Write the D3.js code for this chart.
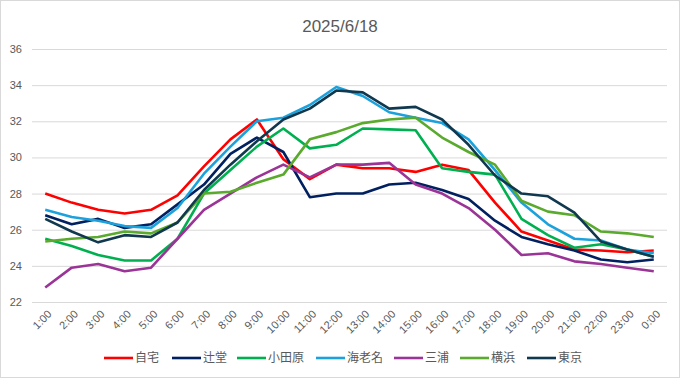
<!DOCTYPE html>
<html>
<head>
<meta charset="utf-8">
<script src="https://cdn.jsdelivr.net/npm/d3@7"></script>
<style>
  body { margin: 0; background: #fff; }
  text { font-family: "Liberation Sans", "Noto Sans CJK JP", sans-serif; fill: #595959; }
</style>
</head>
<body>
<svg id="chart" width="681" height="379"></svg>
<script>
// 時刻ラベル
const hours = ['1:00','2:00','3:00','4:00','5:00','6:00','7:00','8:00','9:00','10:00','11:00','12:00',
               '13:00','14:00','15:00','16:00','17:00','18:00','19:00','20:00','21:00','22:00','23:00','0:00'];
const yTicks = [22, 24, 26, 28, 30, 32, 34, 36];

// 各地点の気温
const jitaku   = [28.0,27.5,27.1,26.9,27.1,27.9,29.5,31.0,32.1,29.9,28.8,29.6,29.4,29.4,29.2,29.6,29.3,27.5,25.9,25.4,24.9,24.85,24.75,24.85];
const tsujido  = [26.8,26.3,26.6,26.1,26.3,27.4,28.5,30.2,31.1,30.3,27.8,28.0,28.0,28.5,28.6,28.2,27.7,26.5,25.6,25.2,24.85,24.35,24.2,24.35];
const odawara  = [25.5,25.1,24.6,24.3,24.3,25.5,28.0,29.3,30.6,31.6,30.5,30.7,31.6,31.55,31.5,29.4,29.2,29.05,26.6,25.7,25.0,25.2,24.9,24.5];
const ebina    = [27.1,26.7,26.5,26.2,26.1,27.2,29.1,30.6,32.0,32.2,32.9,33.9,33.4,32.5,32.2,31.9,31.0,29.3,27.5,26.3,25.5,25.4,24.9,24.7];
const miura    = [22.8,23.9,24.1,23.7,23.9,25.5,27.1,28.0,28.9,29.6,28.9,29.6,29.6,29.7,28.5,28.0,27.2,26.0,24.6,24.7,24.25,24.1,23.9,23.7];
const yokohama = [25.35,25.5,25.6,25.9,25.8,26.4,28.0,28.1,28.6,29.05,31.0,31.4,31.9,32.1,32.2,31.1,30.3,29.6,27.6,27.0,26.8,25.9,25.8,25.6];
const tokyo    = [26.6,25.9,25.3,25.7,25.6,26.4,28.2,29.6,30.9,32.1,32.7,33.7,33.6,32.7,32.8,32.1,30.7,29.0,28.0,27.85,26.95,25.35,24.9,24.5];

const names  = ['自宅','辻堂','小田原','海老名','三浦','横浜','東京'];
const values = [jitaku, tsujido, odawara, ebina, miura, yokohama, tokyo];
const colors = ['#FF0000','#002060','#00B050','#1BA1DC','#9B3497','#5AAA2E','#10394F'];

const svg = d3.select('#chart');
const W = 681, H = 379;
const plot = { left: 32, right: 667, top: 49, bottom: 302 };

// 外枠
svg.append('rect')
  .attr('x', 0.5).attr('y', 0.5)
  .attr('width', W - 2).attr('height', H - 2)
  .attr('fill', '#fff').attr('stroke', '#D9D9D9');

const x = d3.scalePoint()
  .domain(hours)
  .range([plot.left, plot.right])
  .padding(0.5);
const y = d3.scaleLinear()
  .domain([22, 36])
  .range([plot.bottom, plot.top]);

// タイトル
svg.append('text')
  .attr('x', 340).attr('y', 31.5)
  .attr('text-anchor', 'middle')
  .attr('font-size', 17)
  .text('2025/6/18');

// グリッド線
svg.append('g')
  .selectAll('line')
  .data(yTicks)
  .join('line')
    .attr('x1', plot.left).attr('x2', plot.right)
    .attr('y1', d => y(d) + 0.5).attr('y2', d => y(d) + 0.5)
    .attr('stroke', '#D9D9D9');

// Y軸
const yAxis = svg.append('g')
  .attr('transform', `translate(${plot.left - 10},0)`)
  .call(d3.axisLeft(y).tickValues(yTicks).tickSize(0).tickPadding(0));
yAxis.select('.domain').remove();
yAxis.selectAll('text')
  .attr('font-size', 11)
  .style('font-family', '"Liberation Sans", sans-serif')
  .attr('fill', '#595959');

// X軸
const xAxis = svg.append('g')
  .attr('transform', `translate(0,${plot.bottom + 10})`)
  .call(d3.axisBottom(x).tickSize(0).tickPadding(0));
xAxis.select('.domain').remove();
xAxis.selectAll('text')
  .attr('font-size', 11)
  .style('font-family', '"Liberation Sans", sans-serif')
  .attr('fill', '#595959')
  .attr('text-anchor', 'end')
  .attr('dy', '0.35em')
  .attr('transform', 'translate(4,0) rotate(-45)');

// 折れ線
const line = d3.line()
  .x((d, i) => x(hours[i]))
  .y(d => y(d));

svg.append('g')
  .selectAll('path')
  .data(values)
  .join('path')
    .attr('d', line)
    .attr('fill', 'none')
    .attr('stroke', (d, i) => colors[i])
    .attr('stroke-width', 2.6)
    .attr('stroke-linejoin', 'round');

// 凡例
const legendX = [104, 172, 237, 316, 394, 460, 527];
const legend = svg.append('g')
  .selectAll('g')
  .data(names)
  .join('g')
    .attr('transform', (d, i) => `translate(${legendX[i]},358)`);
legend.append('line')
  .attr('x1', 0).attr('x2', 29)
  .attr('stroke', (d, i) => colors[i])
  .attr('stroke-width', 2.6);
legend.append('text')
  .attr('x', 31).attr('dy', '0.36em')
  .attr('font-size', 12)
  .style('font-family', '"Noto Sans CJK JP", sans-serif')
  .text(d => d);
</script>
</body>
</html>
